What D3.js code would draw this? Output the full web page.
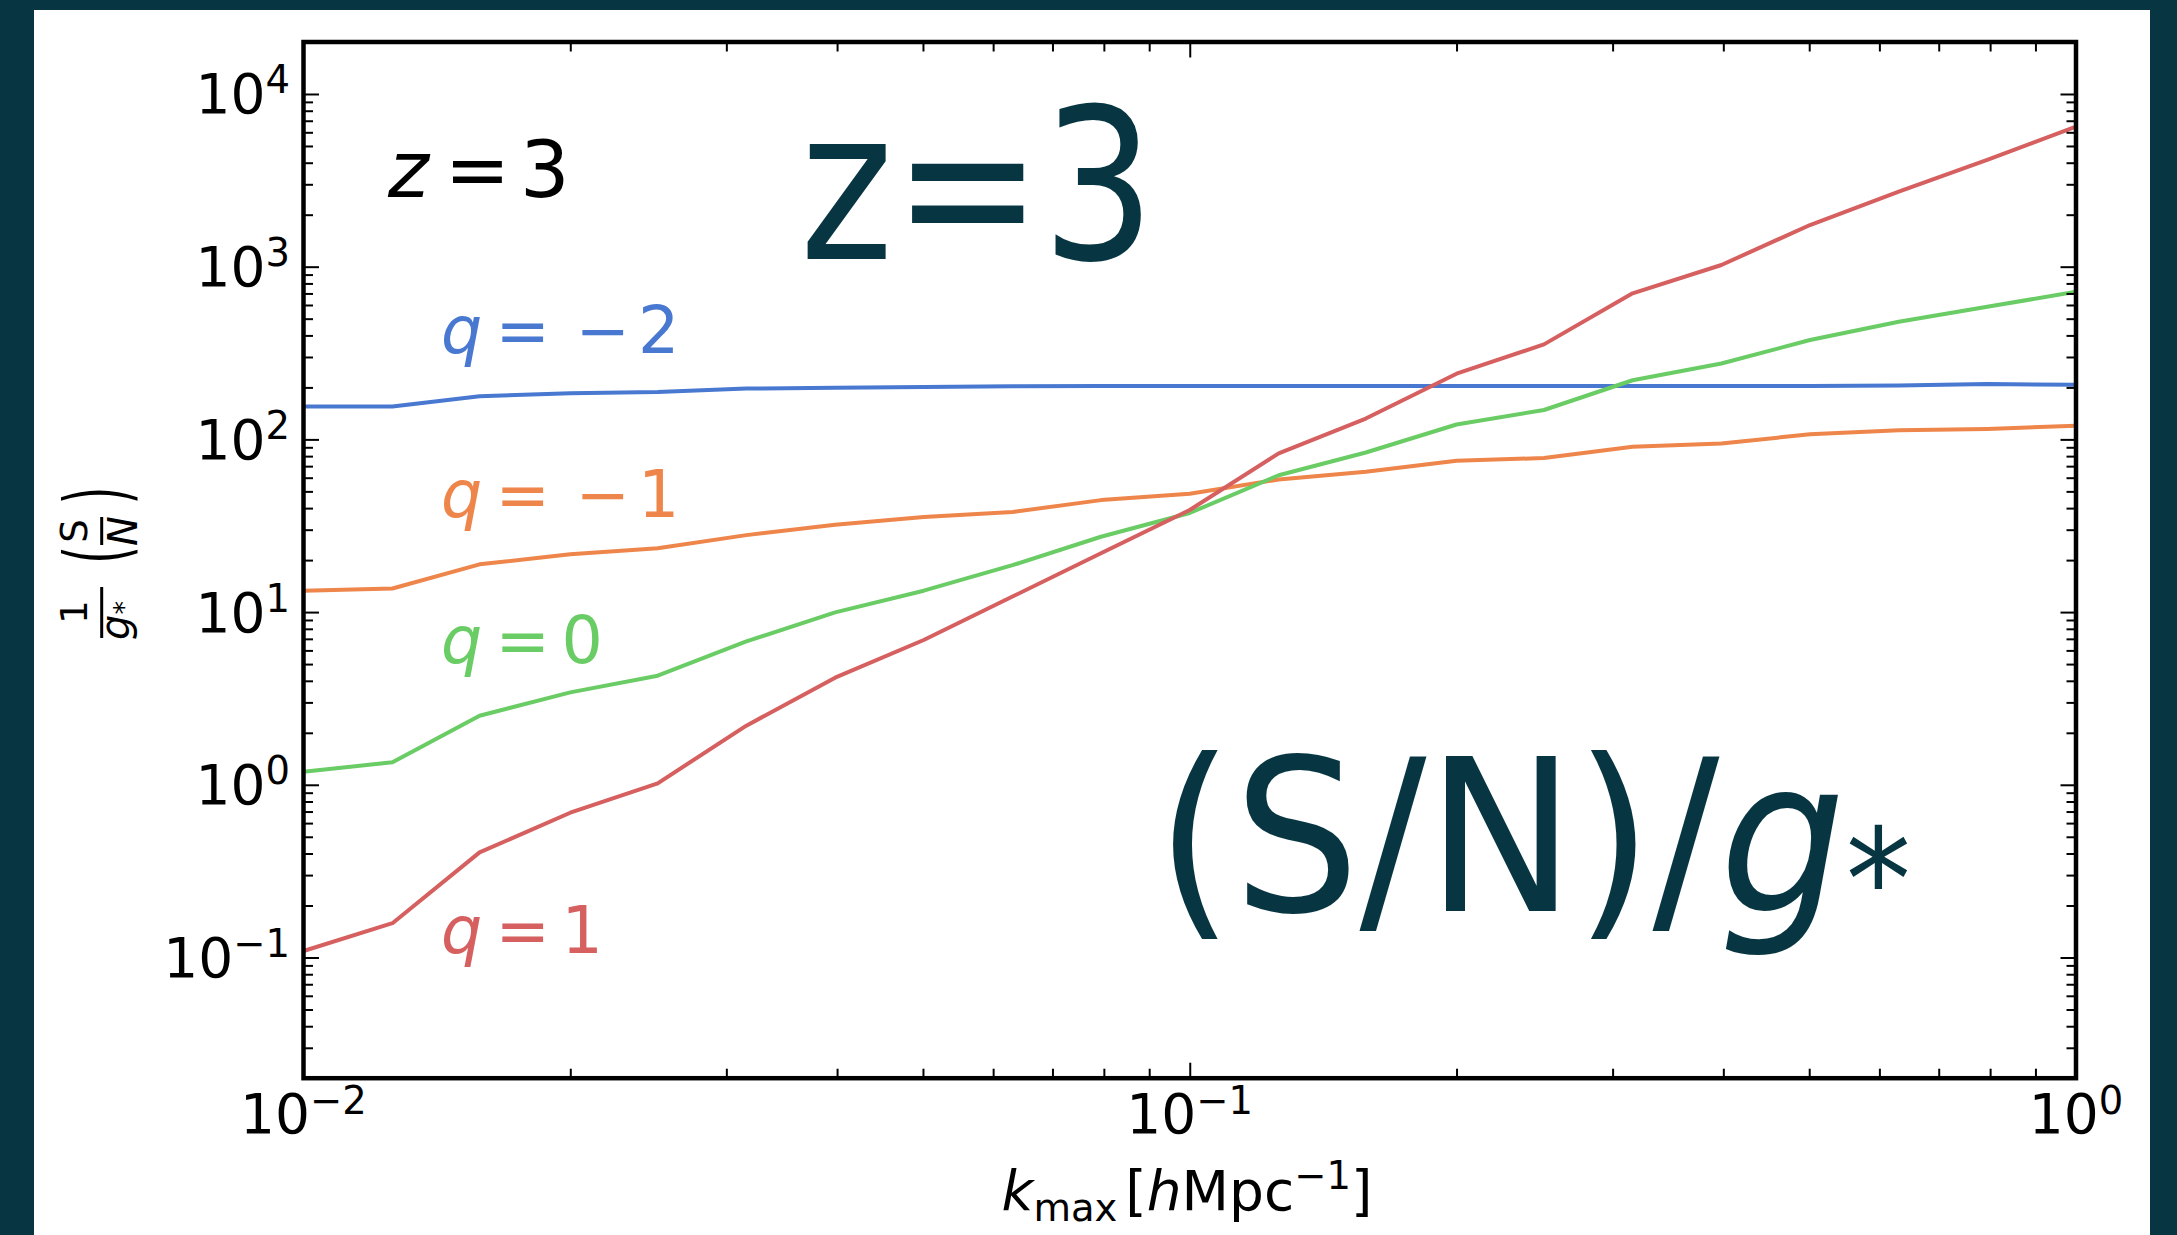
<!DOCTYPE html>
<html><head><meta charset="utf-8">
<script src="https://cdn.jsdelivr.net/npm/d3@7"></script>
<style>
html,body{margin:0;padding:0;background:#fff;}
svg{display:block;font-family:"DejaVu Sans",sans-serif;}
</style>
</head><body>
<svg id="c" width="2177" height="1235"></svg>
<script>
// ---- data ----
const kmax = [0.01, 0.0126, 0.0158, 0.02, 0.0251, 0.0316, 0.0398, 0.0501, 0.0631, 0.0794, 0.1,
              0.126, 0.158, 0.2, 0.251, 0.316, 0.398, 0.501, 0.631, 0.794, 1.0];
const qMinus2 = [155, 155, 178, 185, 188, 197, 199, 201, 203, 204, 204, 204, 204, 204, 204, 204, 204, 204, 205, 209, 207];
const qMinus1 = [13.3, 13.7, 18.9, 21.6, 23.4, 27.9, 32, 35.5, 38, 44.5, 48.5, 58.6, 64.9, 75.2, 78, 90.6, 94.8, 107, 113, 115, 120];
const qZero   = [1.19, 1.35, 2.51, 3.43, 4.28, 6.76, 9.96, 13.3, 18.7, 27.3, 37.5, 62, 84, 122, 148, 220, 275, 376, 480, 586, 716];
const qPlus1  = [0.109, 0.158, 0.406, 0.689, 1.02, 2.2, 4.17, 6.89, 12.3, 21.9, 39, 83, 132, 240, 355, 701, 1023, 1743, 2718, 4150, 6470];
const seriesNames = ["−2", "−1", "0", "1"];
const seriesColors = ["#4878D0", "#EE854A", "#6ACC64", "#D65F5F"];
const seriesValues = [qMinus2, qMinus1, qZero, qPlus1];
const xTickValues = [0.01, 0.1, 1];
const xTickExps = ["−2", "−1", "0"];
const yTickValues = [0.1, 1, 10, 100, 1000, 10000];
const yTickExps = ["−1", "0", "1", "2", "3", "4"];

// ---- layout ----
const W = 2177, H = 1235;
const DARK = "#073642";
const L = 303.5, R = 2076, T = 42, B = 1078.2;
const svg = d3.select("#c");

svg.append("rect").attr("width", W).attr("height", H).attr("fill", DARK);
svg.append("rect").attr("x", 34).attr("y", 10).attr("width", 2150 - 34).attr("height", H - 10).attr("fill", "#fff");

const x = d3.scaleLog().domain([0.01, 1]).range([L, R]);
const y = d3.scaleLog().domain([0.02, 20000]).range([B, T]);

// ---- lines ----
svg.append("clipPath").attr("id", "plotclip").append("rect")
  .attr("x", L).attr("y", T).attr("width", R - L).attr("height", B - T);
const line = d3.line().x((d, i) => x(kmax[i])).y(d => y(d));
const gl = svg.append("g").attr("clip-path", "url(#plotclip)");
seriesValues.forEach((vals, si) => {
  gl.append("path").attr("d", line(vals)).attr("fill", "none")
    .attr("stroke", seriesColors[si]).attr("stroke-width", 4).attr("stroke-linejoin", "round");
});

// ---- ticks ----
const isPow10 = v => Math.abs(Math.log10(v) - Math.round(Math.log10(v))) < 1e-9;
const xMinor = x.ticks().filter(v => !isPow10(v));
const yMinor = y.ticks().filter(v => !isPow10(v));
function addAxis(axisFn, scale, vals, size, tr) {
  svg.append("g").attr("transform", tr)
    .call(axisFn(scale).tickValues(vals).tickSize(size).tickFormat(""))
    .call(g => g.select(".domain").remove())
    .selectAll("line").attr("stroke", "#000").attr("stroke-width", 2);
}
[[d3.axisBottom, `translate(0,${B})`], [d3.axisTop, `translate(0,${T})`]].forEach(([f, tr]) => {
  addAxis(f, x, xTickValues, -15.5, tr);
  addAxis(f, x, xMinor, -9.5, tr);
});
[[d3.axisLeft, `translate(${L},0)`], [d3.axisRight, `translate(${R},0)`]].forEach(([f, tr]) => {
  addAxis(f, y, yTickValues, -15.5, tr);
  addAxis(f, y, yMinor, -9.5, tr);
});

// frame
svg.append("rect").attr("x", L).attr("y", T).attr("width", R - L).attr("height", B - T)
  .attr("fill", "none").attr("stroke", "#000").attr("stroke-width", 4.5);

// ---- tick labels ----
yTickValues.forEach((v, i) => {
  const t = svg.append("text").attr("x", 290).attr("y", y(v) + 19.5)
    .attr("text-anchor", "end").attr("font-size", 55).attr("fill", "#000");
  t.append("tspan").text("10");
  t.append("tspan").attr("font-size", 38.5).attr("dy", -20).text(yTickExps[i]);
});
xTickValues.forEach((v, i) => {
  const t = svg.append("text").attr("x", x(v)).attr("y", B + 55)
    .attr("text-anchor", "middle").attr("font-size", 55).attr("fill", "#000");
  t.append("tspan").text("10");
  t.append("tspan").attr("font-size", 38.5).attr("dy", -19).text(xTickExps[i]);
});

// ---- x-axis label ----
{
  const t = svg.append("text").attr("x", 1187).attr("y", 1210)
    .attr("text-anchor", "middle").attr("font-size", 55).attr("fill", "#000");
  t.append("tspan").attr("font-style", "italic").text("k");
  t.append("tspan").attr("font-size", 38.5).attr("dy", 11).text("max");
  t.append("tspan").attr("dy", -11).attr("dx", 8).text("[");
  t.append("tspan").attr("font-style", "italic").text("h");
  t.append("tspan").text("Mpc");
  t.append("tspan").attr("font-size", 38.5).attr("dy", -21).text("−1");
  t.append("tspan").attr("dy", 21).text("]");
}

// ---- y-axis label (rotated) ----
{
  const g = svg.append("g").attr("transform", "translate(99,560) rotate(-90)").attr("fill", "#000");
  g.append("text").attr("x", -52).attr("y", -12).attr("text-anchor", "middle").attr("font-size", 37).text("1");
  g.append("line").attr("x1", -78).attr("x2", -27).attr("y1", 2.7).attr("y2", 2.7).attr("stroke", "#000").attr("stroke-width", 3);
  const gt = g.append("text").attr("x", -80).attr("y", 29.5).attr("font-size", 40);
  gt.append("tspan").attr("font-style", "italic").text("g");
  gt.append("tspan").attr("font-size", 27).attr("dy", 4).text("*");
  g.append("text").attr("x", 5).attr("y", 14).attr("text-anchor", "middle").attr("font-size", 45)
    .attr("transform", "scale(1,1.9)").text("(");
  g.append("text").attr("x", 64.5).attr("y", 14).attr("text-anchor", "middle").attr("font-size", 45)
    .attr("transform", "scale(1,1.9)").text(")");
  g.append("text").attr("x", 29).attr("y", -12).attr("text-anchor", "middle").attr("font-size", 37).text("S");
  g.append("line").attr("x1", 15).attr("x2", 43).attr("y1", 2.7).attr("y2", 2.7).attr("stroke", "#000").attr("stroke-width", 3);
  g.append("text").attr("x", 29).attr("y", 37.5).attr("text-anchor", "middle").attr("font-size", 40)
    .attr("font-style", "italic").text("N");
}

// ---- series labels ----
const qLabelBaselines = [353, 517, 663, 953];
const qLabelDx = [[ -7.5, 5, 8 ], [ -7.5, 5, 8 ], [ -7.5, -9 ], [ -7.5, -9 ]];
seriesNames.forEach((nm, i) => {
  const t = svg.append("text").attr("x", 441).attr("y", qLabelBaselines[i])
    .attr("font-size", 65).attr("fill", seriesColors[i]);
  t.append("tspan").attr("font-style", "italic").text("q");
  t.append("tspan").text(" ");
  t.append("tspan").attr("dx", qLabelDx[i][0]).text("=");
  t.append("tspan").text(" ");
  if (nm.startsWith("−")) {
    t.append("tspan").attr("dx", qLabelDx[i][1]).text("−");
    t.append("tspan").attr("dx", qLabelDx[i][2]).text(nm.slice(1));
  } else {
    t.append("tspan").attr("dx", qLabelDx[i][1]).text(nm);
  }
});

// small z = 3
{
  const t = svg.append("text").attr("x", 388).attr("y", 197).attr("font-size", 78).attr("fill", "#000");
  t.append("tspan").attr("font-style", "italic").text("z");
  t.append("tspan").text(" ");
  t.append("tspan").attr("dx", -9).text("=");
  t.append("tspan").text(" ");
  t.append("tspan").attr("dx", -15).text("3");
}

// ---- big overlay texts ----
function fitX(sel, x0, x1) {
  const bb = sel.node().getBBox();
  const s = (x1 - x0) / bb.width;
  sel.attr("transform", `translate(${x0 - bb.x * s},0) scale(${s},1)`);
}
{
  const t = svg.append("text").attr("x", 0).attr("y", 259).attr("font-size", 211).attr("fill", DARK).text("z=3");
  fitX(t, 800, 1155);
}
{
  const t = svg.append("text").attr("x", 0).attr("y", 911).attr("font-size", 213).attr("fill", DARK);
  t.append("tspan").text("(S/N)/");
  t.append("tspan").attr("font-style", "italic").text("g");
  t.append("tspan").attr("font-size", 140).attr("dy", 18).text("*");
  fitX(t, 1156, 1911);
}
</script>
</body></html>
